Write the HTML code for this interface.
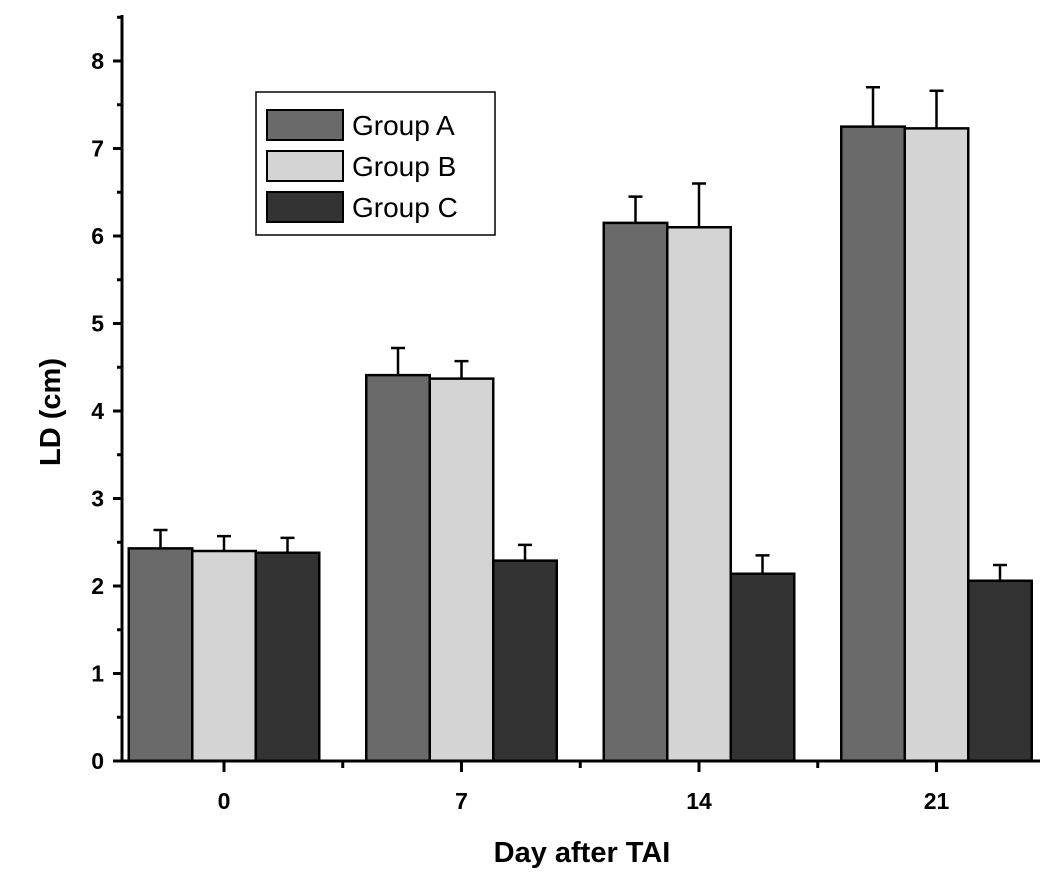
<!DOCTYPE html>
<html><head><meta charset="utf-8"><style>
html,body{margin:0;padding:0;background:#fff;}
svg{display:block;font-family:"Liberation Sans",Arial,sans-serif;}
</style></head><body>
<svg id="chart" width="1061" height="880"></svg>
<script>
const categories = ["0","7","14","21"];
const groupA = [2.43, 4.41, 6.15, 7.25];
const groupB = [2.40, 4.37, 6.10, 7.23];
const groupC = [2.38, 2.29, 2.14, 2.06];
const errA = [0.21, 0.31, 0.30, 0.45];
const errB = [0.17, 0.20, 0.50, 0.43];
const errC = [0.17, 0.18, 0.21, 0.18];
const yTicks = [0,1,2,3,4,5,6,7,8];
const seriesNames = ["Group A","Group B","Group C"];

const NS="http://www.w3.org/2000/svg";
const svg=document.getElementById('chart');
function mk(t,a,p){const e=document.createElementNS(NS,t);for(const k in a)e.setAttribute(k,a[k]);(p||svg).appendChild(e);return e;}
const x0=122,y0=761,ppu=87.5,groupW=237.5,firstC=224,barW=63.5;
const y=v=>y0-v*ppu;
const xc=i=>firstC+i*groupW;
const fills=["#6a6a6a","#d4d4d4","#333333"];
const vals=[groupA,groupB,groupC],errs=[errA,errB,errC];

categories.forEach((c,i)=>{
  for(let s=0;s<3;s++){
    const left=xc(i)-1.5*barW+s*barW;
    const v=vals[s][i],e=errs[s][i];
    const cx=left+barW/2;
    const eb=mk('line',{x1:cx,x2:cx,y1:y(v),y2:y(v+e),stroke:'#000','stroke-width':2.5});
    
    
    const cap=mk('line',{x1:cx-7,x2:cx+7,y1:y(v+e),y2:y(v+e),stroke:'#000','stroke-width':2.5});
    
    
    const r=mk('rect',{x:left,y:y(v),width:barW,height:v*ppu,fill:fills[s],stroke:'#000','stroke-width':2.5});
    
    
  }
  const t=mk('line',{x1:xc(i),x2:xc(i),y1:y0,y2:y0+11,stroke:'#000','stroke-width':3});
  
  
  if(i<categories.length-1){
    const mt=mk('line',{x1:xc(i)+groupW/2,x2:xc(i)+groupW/2,y1:y0,y2:y0+7,stroke:'#000','stroke-width':3});
    
    
  }
  const lb=mk('text',{x:xc(i),y:809,'text-anchor':'middle','font-size':23,'font-weight':'bold'});
  lb.textContent=c;
  
  
});
yTicks.forEach(v=>{
  const t=mk('line',{x1:x0-9,x2:x0,y1:y(v),y2:y(v),stroke:'#000','stroke-width':3});
  
  
  const mt=mk('line',{x1:x0-5,x2:x0,y1:y(v+0.5),y2:y(v+0.5),stroke:'#000','stroke-width':3});
  
  
  const lb=mk('text',{x:104,y:y(v)+8,'text-anchor':'end','font-size':23,'font-weight':'bold'});
  lb.textContent=v;
  
  
});
</script>
<script>
(function(){
const NS="http://www.w3.org/2000/svg";const svg=document.getElementById('chart');
function mk(t,a){const e=document.createElementNS(NS,t);for(const k in a)e.setAttribute(k,a[k]);svg.appendChild(e);return e;}
const ya=mk('line',{x1:122,x2:122,y1:15,y2:762,stroke:'#000','stroke-width':3});


const xa=mk('line',{x1:121,x2:1040,y1:761,y2:761,stroke:'#000','stroke-width':3});


const xt=mk('text',{x:582,y:862,'text-anchor':'middle','font-size':29,'font-weight':'bold'});
xt.textContent='Day after TAI';


const yt=mk('text',{x:0,y:0,'text-anchor':'middle','font-size':29,'font-weight':'bold',transform:'translate(60,412) rotate(-90)'});
yt.textContent='LD (cm)';


const lg=mk('rect',{x:256,y:92,width:239,height:143,fill:'#fff',stroke:'#000','stroke-width':1.5});


const fills=["#6a6a6a","#d4d4d4","#333333"];
seriesNames.forEach((n,i)=>{
  const cy=125+i*41;
  const s=mk('rect',{x:267,y:cy-15,width:76,height:30,fill:fills[i],stroke:'#000','stroke-width':2});
  
  
  const t=mk('text',{x:352,y:cy+10,'font-size':28});
  t.textContent=n;
  
  
});
})();
</script>
</body></html>
